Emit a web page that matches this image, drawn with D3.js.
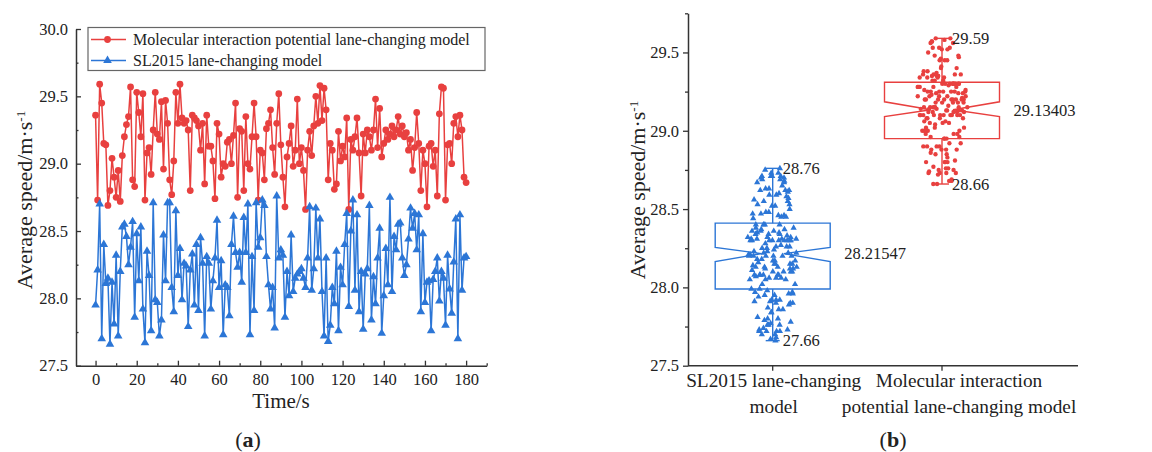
<!DOCTYPE html>
<html>
<head>
<meta charset="utf-8">
<script src="https://cdn.jsdelivr.net/npm/d3@7"></script>
<style>
  body { margin: 0; background: #fff; }
  text { font-family: "Liberation Serif", "Times New Roman", serif; fill: #222; }
</style>
</head>
<body>
<svg width="1152" height="452"></svg>
<script>
// time axis, one sample per second
const time = d3.range(0, 181);

// average speed, molecular interaction potential model (red)
const molecular = [
  29.36, 28.73, 29.59, 29.45, 29.15, 29.14, 28.69, 28.80, 29.04, 28.90,
  28.75, 28.95, 28.72, 29.06, 29.20, 29.29, 29.35, 29.57, 28.88, 28.83,
  29.53, 29.38, 29.20, 29.52, 28.73, 29.08, 29.12, 28.92, 29.25, 29.53,
  29.22, 29.18, 29.46, 28.96, 29.47, 29.30, 28.88, 28.77, 29.02, 29.53,
  29.30, 29.59, 29.34, 29.30, 29.32, 29.25, 28.80, 29.36, 29.34, 29.32,
  29.28, 29.10, 29.30, 28.85, 29.36, 29.13, 29.13, 29.02, 28.74, 29.30,
  29.22, 28.90, 29.00, 28.98, 29.16, 29.18, 29.00, 29.21, 29.45, 28.75,
  29.26, 29.24, 28.80, 29.35, 29.00, 28.96, 29.20, 29.45, 29.20, 28.73,
  29.10, 29.08, 28.88, 29.26, 29.30, 29.40, 29.12, 28.92, 29.30, 29.52,
  29.14, 28.90, 28.68, 29.05, 29.15, 29.28, 28.98, 29.10, 29.48, 29.00,
  29.12, 28.95, 28.66, 29.10, 29.24, 29.06, 29.28, 29.50, 29.30, 29.58,
  29.32, 29.56, 29.40, 28.88, 29.15, 29.10, 28.81, 28.85, 29.24, 29.02,
  29.13, 29.05, 29.34, 28.66, 29.18, 29.10, 29.20, 29.34, 29.08, 28.76,
  29.22, 29.08, 29.25, 29.20, 29.10, 29.25, 29.48, 29.12, 29.41, 29.05,
  29.15, 29.25, 29.18, 29.22, 29.28, 29.20, 29.25, 29.35, 29.22, 29.28,
  29.20, 29.23, 29.10, 29.18, 28.95, 29.12, 29.38, 29.15, 28.80, 29.10,
  29.00, 28.68, 29.13, 29.15, 28.98, 29.10, 28.76, 29.37, 29.57, 29.56,
  28.73, 29.14, 29.15, 29.00, 29.30, 29.35, 29.20, 29.36, 29.25, 28.90,
  28.86
];

// average speed, SL2015 model (blue)
const sl2015 = [
  27.95, 28.21, 28.70, 27.70, 28.40, 28.11, 28.15, 27.66, 28.12, 27.81,
  28.32, 27.72, 28.20, 28.53, 28.55, 28.46, 28.25, 28.38, 28.57, 27.86,
  28.48, 28.13, 28.53, 27.92, 27.67, 28.35, 28.17, 27.76, 28.71, 27.99,
  27.97, 27.72, 27.84, 28.47, 28.13, 28.71, 28.71, 28.08, 27.90, 28.65,
  28.17, 28.37, 27.99, 28.26, 28.24, 27.79, 28.21, 28.33, 27.95, 28.40,
  27.91, 28.45, 28.26, 27.72, 28.31, 28.26, 27.92, 28.13, 28.30, 28.58,
  28.08, 28.28, 27.73, 28.10, 28.08, 27.87, 28.40, 28.61, 28.34, 28.23,
  28.34, 28.12, 28.60, 28.34, 28.70, 27.73, 28.31, 27.91, 28.71, 28.38,
  28.45, 28.73, 28.69, 28.31, 28.10, 27.92, 28.08, 27.78, 28.76, 28.30,
  28.36, 28.32, 27.86, 28.20, 28.02, 28.47, 28.05, 28.15, 28.18, 28.20,
  28.22, 28.15, 28.08, 28.30, 28.68, 28.06, 28.22, 28.67, 28.30, 28.59,
  28.05, 27.72, 28.30, 27.68, 27.80, 28.08, 27.96, 28.35, 27.76, 28.23,
  28.10, 28.40, 28.63, 27.94, 28.50, 28.73, 28.06, 28.62, 27.90, 28.20,
  27.77, 28.18, 28.22, 28.69, 27.84, 28.16, 27.96, 28.30, 28.52, 27.74,
  28.02, 28.37, 28.10, 28.75, 28.05, 28.46, 28.36, 28.55, 28.56, 28.30,
  28.17, 28.25, 28.44, 28.67, 28.52, 28.63, 28.36, 28.62, 27.90, 28.48,
  27.97, 28.12, 28.13, 27.76, 28.14, 28.20, 28.30, 27.98, 28.20, 28.15,
  27.80, 28.32, 28.07, 27.89, 28.27, 28.59, 27.70, 28.62, 28.06, 28.30,
  28.31
];

const seriesNames = ["Molecular interaction potential lane-changing model", "SL2015 lane-changing model"];
const xTicks = [0, 20, 40, 60, 80, 100, 120, 140, 160, 180];
const yTicksA = [27.5, 28.0, 28.5, 29.0, 29.5, 30.0];
const yTicksB = [27.5, 28.0, 28.5, 29.0, 29.5];

// box chart statistics
const boxCats = [["SL2015 lane-changing", "model"], ["Molecular interaction", "potential lane-changing model"]];
const boxMin = [27.66, 28.66];
const boxQ1 = [27.99, 28.95];
const boxMedian = [28.21547, 29.13403];
const boxQ3 = [28.41, 29.31];
const boxMax = [28.76, 29.59];
const notchLo = [28.165, 29.09];
const notchHi = [28.255, 29.185];

const red = "#e8403f", blue = "#2c76d6", axisCol = "#333";
const svg = d3.select("svg");

function styleAxis(g) {
  g.select(".domain").attr("stroke", axisCol).attr("stroke-width", 1.5);
  g.selectAll(".tick line").attr("stroke", axisCol).attr("stroke-width", 1.3);
  g.selectAll(".tick text").style("font-family", "Liberation Serif, serif").style("font-size", "16.5px").attr("fill", "#222");
}

// ---------- panel (a) ----------
const xA = d3.scaleLinear().domain([-9.5, 190]).range([76, 486.7]);
const yA = d3.scaleLinear().domain([27.5, 30]).range([365.7, 29]);

svg.append("g").attr("transform", `translate(0,${yA(27.5)})`)
  .call(d3.axisBottom(xA).tickValues(d3.range(10, 191, 20)).tickSize(-2.5).tickFormat(""))
  .call(g => g.select(".domain").remove())
  .call(styleAxis);
svg.append("g").attr("transform", `translate(0,${yA(27.5)})`)
  .call(d3.axisBottom(xA).tickValues(xTicks).tickSizeInner(-5).tickSizeOuter(0).tickPadding(8))
  .call(styleAxis);

svg.append("g").attr("transform", `translate(${xA(-9.5)},0)`)
  .call(d3.axisLeft(yA).tickValues(d3.range(27.75, 30, 0.5)).tickSize(-2.5).tickFormat(""))
  .call(g => g.select(".domain").remove())
  .call(styleAxis);
svg.append("g").attr("transform", `translate(${xA(-9.5)},0)`)
  .call(d3.axisLeft(yA).tickValues(yTicksA).tickSizeInner(-5).tickSizeOuter(0).tickPadding(8).tickFormat(d3.format(".1f")))
  .call(styleAxis);

const line = d3.line().x((d, i) => xA(time[i])).y(d => yA(d));

const plotA = [
  { name: seriesNames[0], values: molecular, color: red, symbol: d3.symbolCircle, size: 36 },
  { name: seriesNames[1], values: sl2015, color: blue, symbol: d3.symbolTriangle, size: 32 }
];

plotA.forEach(s => {
  svg.append("path").datum(s.values)
    .attr("fill", "none").attr("stroke", s.color).attr("stroke-width", 1.5)
    .attr("d", line);
  svg.append("g").selectAll("path")
    .data(s.values)
    .join("path")
    .attr("transform", (d, i) => `translate(${xA(time[i])},${yA(d)})`)
    .attr("d", d3.symbol(s.symbol, s.size))
    .attr("fill", s.color);
});

// legend
const legend = svg.append("g");
legend.append("rect")
  .attr("x", 88).attr("y", 27.5).attr("width", 397).attr("height", 43)
  .attr("fill", "#fff").attr("stroke", "#666").attr("stroke-width", 1.2);
plotA.forEach((s, i) => {
  const ly = 39.5 + i * 21;
  legend.append("line").attr("x1", 91).attr("x2", 126).attr("y1", ly).attr("y2", ly)
    .attr("stroke", s.color).attr("stroke-width", 1.5);
  legend.append("path").attr("transform", `translate(107.5,${ly})`)
    .attr("d", d3.symbol(s.symbol, s.size)).attr("fill", s.color);
  legend.append("text").attr("x", 133).attr("y", ly).attr("dy", "0.35em")
    .style("font-size", "16px").text(s.name);
});

svg.append("text").attr("x", 281).attr("y", 401).attr("dy", "0.35em")
  .attr("text-anchor", "middle").style("font-size", "21px").text("Time/s");

function yTitle(x, y) {
  const t = svg.append("text")
    .attr("transform", `translate(${x},${y}) rotate(-90)`)
    .attr("text-anchor", "middle").attr("dy", "0.35em")
    .style("font-size", "22px");
  t.append("tspan").text("Average speed/m\u00b7s");
  t.append("tspan").attr("baseline-shift", "super").style("font-size", "13px").text("-1");
}
yTitle(24, 200);

function panelLabel(x, y, letter) {
  const t = svg.append("text").attr("x", x).attr("y", y).attr("dy", "0.35em")
    .attr("text-anchor", "middle").style("font-size", "22px");
  t.append("tspan").text("(");
  t.append("tspan").style("font-weight", "bold").text(letter);
  t.append("tspan").text(")");
}
panelLabel(248, 439, "a");

// ---------- panel (b) ----------
const xB = d3.scalePoint().domain([0, 1]).range([772.7, 942]);
const yB = d3.scaleLinear().domain([27.5, 29.75]).range([365.7, 13.3]);

svg.append("g").attr("transform", `translate(688,0)`)
  .call(d3.axisLeft(yB).tickValues(d3.range(27.75, 29.76, 0.5)).tickSize(3).tickFormat(""))
  .call(g => g.select(".domain").remove())
  .call(styleAxis);
svg.append("g").attr("transform", `translate(688,0)`)
  .call(d3.axisLeft(yB).tickValues(yTicksB).tickSizeInner(5).tickSizeOuter(0).tickPadding(4).tickFormat(d3.format(".1f")))
  .call(styleAxis);
svg.append("line").attr("x1", 688).attr("x2", 1078).attr("y1", yB(27.5)).attr("y2", yB(27.5))
  .attr("stroke", axisCol).attr("stroke-width", 1.5);
svg.append("g").selectAll("line").data([0, 1]).join("line")
  .attr("x1", d => xB(d)).attr("x2", d => xB(d))
  .attr("y1", yB(27.5)).attr("y2", yB(27.5) + 5)
  .attr("stroke", axisCol).attr("stroke-width", 1.3);

const labelShift = [1, 17];
boxCats.forEach((lines, i) => {
  const t = svg.append("text").attr("text-anchor", "middle").style("font-size", "19.3px");
  lines.forEach((l, j) => {
    t.append("tspan").attr("x", xB(i) + labelShift[i]).attr("y", 387 + j * 26).text(l);
  });
});

yTitle(637, 190);
panelLabel(893, 439, "b");

const boxHalf = 57.5, notchIn = 11, capHalf = 7;
const boxes = [
  { color: blue, values: sl2015, symbol: d3.symbolTriangle, size: 17 },
  { color: red, values: molecular, symbol: d3.symbolCircle, size: 15 }
];

boxes.forEach((b, i) => {
  const cx = xB(i);
  const L = cx - boxHalf, R = cx + boxHalf;
  const pts = [
    [L, yB(boxQ3[i])], [R, yB(boxQ3[i])], [R, yB(notchHi[i])], [cx + notchIn, yB(boxMedian[i])],
    [R, yB(notchLo[i])], [R, yB(boxQ1[i])], [L, yB(boxQ1[i])], [L, yB(notchLo[i])],
    [cx - notchIn, yB(boxMedian[i])], [L, yB(notchHi[i])]
  ];
  const g = svg.append("g").attr("stroke", b.color).attr("stroke-width", 1.4).attr("fill", "none");
  g.append("path").attr("d", d3.line()(pts) + "Z");
  g.append("line").attr("x1", cx).attr("x2", cx).attr("y1", yB(boxQ3[i])).attr("y2", yB(boxMax[i]));
  g.append("line").attr("x1", cx).attr("x2", cx).attr("y1", yB(boxQ1[i])).attr("y2", yB(boxMin[i]));
  g.append("line").attr("x1", cx - capHalf).attr("x2", cx + capHalf).attr("y1", yB(boxMax[i])).attr("y2", yB(boxMax[i]));
  g.append("line").attr("x1", cx - capHalf).attr("x2", cx + capHalf).attr("y1", yB(boxMin[i])).attr("y2", yB(boxMin[i]));

  // jitter spread follows the local density of the values
  const dens = v => d3.mean(b.values, d => Math.exp(-0.5 * ((v - d) / 0.1) ** 2));
  const maxD = d3.max(b.values, dens);
  svg.append("g").selectAll("path")
    .data(b.values)
    .join("path")
    .attr("transform", (d, k) => {
      const u = ((k * 0.7548776662 + 0.31) % 1) - 0.5;
      const dx = u * 2 * 26 * Math.pow(dens(d) / maxD, 0.45);
      return `translate(${cx + dx},${yB(d)})`;
    })
    .attr("d", d3.symbol(b.symbol, b.size))
    .attr("fill", b.color);

  const lab = [[boxMax[i], cx + 10, d3.format(".2f")], [boxMin[i], cx + 10, d3.format(".2f")], [boxMedian[i], R + 14, d3.format(".5f")]];
  lab.forEach(([v, x, f]) => {
    svg.append("text").attr("x", x).attr("y", yB(v)).attr("dy", "0.35em")
      .style("font-size", "16.5px").text(f(v));
  });
});
</script>
</body>
</html>
